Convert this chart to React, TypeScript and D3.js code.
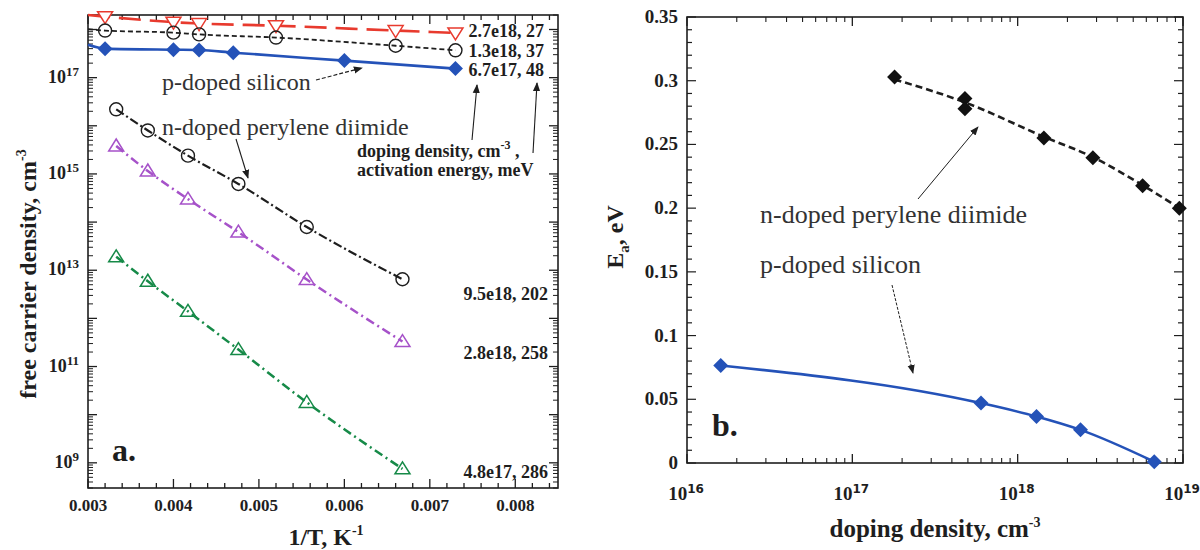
import React from "react";
import * as d3 from "d3";

// ---------- Panel a data (1/T in K^-1, carrier density in cm^-3) ----------
const tempX = [0.0032, 0.004, 0.0043, 0.0052, 0.0066, 0.0073];
const redY = [1.85e18, 1.42e18, 1.33e18, 1.2e18, 9.5e17, 8.5e17];
const redStart = 2.0e18;
const blkY = [9.5e17, 8.6e17, 7.9e17, 6.8e17, 4.6e17, 3.7e17];
const blkStart = 1.02e18;
const siX = [0.0032, 0.004, 0.0043, 0.0047, 0.006, 0.0073];
const siY = [4.0e17, 3.8e17, 3.75e17, 3.3e17, 2.26e17, 1.54e17];
const siStart = 4.8e17;

const pdiX = [0.00333, 0.0037, 0.00417, 0.00476, 0.00556, 0.00668];
const pdiBlackY = [2.2e16, 8.0e15, 2.4e15, 6.2e14, 7.9e13, 6.5e12];
const pdiPurpleY = [3.8e15, 1.15e15, 3.0e14, 6.2e13, 6.4e12, 3.3e11];
const pdiGreenY = [1.9e13, 5.9e12, 1.4e12, 2.25e11, 1.8e10, 7.5e8];

const labelsTop = ["2.7e18, 27", "1.3e18, 37", "6.7e17, 48"];
const labelsTopY = [9.3e17, 3.6e17, 1.44e17];
const labelsBot = ["9.5e18, 202", "2.8e18, 258", "4.8e17, 286"];
const labelsBotY = [3.2e12, 1.9e11, 6.4e8];

const xTicksA = [0.003, 0.004, 0.005, 0.006, 0.007, 0.008];
const yLabelExpA = [9, 11, 13, 15, 17];

// ---------- Panel b data (doping density cm^-3, Ea eV) ----------
const pdiDopX = [1.8e17, 4.8e17, 4.8e17, 1.44e18, 2.85e18, 5.7e18, 9.5e18];
const pdiEa = [0.303, 0.286, 0.278, 0.255, 0.2395, 0.2175, 0.2];
const pdiFitX = [1.8e17, 4.8e17, 1.44e18, 2.85e18, 5.7e18, 9.5e18];
const pdiFitEa = [0.301, 0.283, 0.256, 0.24, 0.218, 0.2];
const siDopX = [1.6e16, 6.0e17, 1.3e18, 2.4e18, 6.7e18];
const siEa = [0.0765, 0.047, 0.0365, 0.026, 0.001];
const yTicksB = [0, 0.05, 0.1, 0.15, 0.2, 0.25, 0.3, 0.35];
const xExpB = [16, 17, 18, 19];

const FONT = "'Liberation Serif', 'Times New Roman', serif";
const INK = "#1e1e1e";

const xA = d3.scaleLinear().domain([0.003, 0.0085]).range([88, 558]);
const yA = d3.scaleLog().domain([3e8, 2e18]).range([488, 15]);
const xB = d3.scaleLog().domain([1e16, 1e19]).range([687, 1183]);
const yB = d3.scaleLinear().domain([0, 0.35]).range([463, 17]);

const upTri = "M0,-7L7.5,5L-7.5,5Z";
const downTri = "M-7.5,-5L7.5,-5L0,7Z";
const diamond = "M0,-7.5L7.5,0L0,7.5L-7.5,0Z";

function logTicks(lo: number, hi: number) {
  const major: number[] = [];
  const minor: number[] = [];
  for (let e = Math.floor(Math.log10(lo)); e <= Math.ceil(Math.log10(hi)); e++) {
    for (let k = 1; k <= 9; k++) {
      const v = k * Math.pow(10, e);
      if (v < lo * 0.999 || v > hi * 1.001) continue;
      (k === 1 ? major : minor).push(v);
    }
  }
  return { major, minor };
}

function lineA(xs: number[], ys: number[]) {
  return d3
    .line<number>()
    .x((_, i) => xA(xs[i]))
    .y((_, i) => yA(ys[i]))
    .curve(d3.curveMonotoneX)(xs.map((_, i) => i)) as string;
}
function lineB(xs: number[], ys: number[]) {
  return d3
    .line<number>()
    .x((_, i) => xB(xs[i]))
    .y((_, i) => yB(ys[i]))
    .curve(d3.curveMonotoneX)(xs.map((_, i) => i)) as string;
}

export default function App() {
  const ltA = logTicks(3e8, 2e18);
  const ltB = logTicks(1e16, 1e19);
  const xMinorA = d3.range(0, 28).map((i) => 0.003 + i * 0.0002).filter((v) => v <= 0.00851);
  const yMinorB = d3.range(0, 36).map((i) => i * 0.01);

  const [ax0, ax1] = xA.range();
  const [ay1, ay0] = yA.range();
  const [bx0, bx1] = xB.range();
  const [by1, by0] = yB.range();

  return (
    <svg width={1200} height={550} style={{ display: "block", position: "absolute", left: 0, top: 0, background: "#fff" }} fontFamily={FONT}>
      <defs>
        <marker id="ah" viewBox="0 0 10 10" refX="9" refY="5" markerWidth="9" markerHeight="9" orient="auto-start-reverse" markerUnits="userSpaceOnUse">
          <path d="M0,1L10,5L0,9Z" fill={INK} />
        </marker>
      </defs>
      <rect x={0} y={0} width={1200} height={550} fill="#fff" />

      {/* ================= PANEL A ================= */}
      <g>
        <rect x={ax0} y={ay0} width={ax1 - ax0} height={ay1 - ay0} fill="none" stroke={INK} strokeWidth={1.6} />
        {xMinorA.map((v, i) => {
          const isMaj = Math.abs((v * 1000) - Math.round(v * 1000)) < 1e-6;
          const len = isMaj ? 9 : 5;
          return (
            <g key={"xa" + i} stroke={INK} strokeWidth={1.3}>
              <line x1={xA(v)} x2={xA(v)} y1={ay1} y2={ay1 - len} />
              <line x1={xA(v)} x2={xA(v)} y1={ay0} y2={ay0 + len} />
            </g>
          );
        })}
        {xTicksA.map((v) => (
          <text key={"xal" + v} x={xA(v)} y={511} textAnchor="middle" fontSize={17} fontWeight="bold" fill={INK}>
            {v.toFixed(3)}
          </text>
        ))}
        {ltA.major.map((v, i) => (
          <g key={"yam" + i} stroke={INK} strokeWidth={1.3}>
            <line x1={ax0} x2={ax0 + 9} y1={yA(v)} y2={yA(v)} />
            <line x1={ax1} x2={ax1 - 9} y1={yA(v)} y2={yA(v)} />
          </g>
        ))}
        {ltA.minor.map((v, i) => (
          <g key={"yan" + i} stroke={INK} strokeWidth={1}>
            <line x1={ax0} x2={ax0 + 5} y1={yA(v)} y2={yA(v)} />
            <line x1={ax1} x2={ax1 - 5} y1={yA(v)} y2={yA(v)} />
          </g>
        ))}
        {yLabelExpA.map((e) => (
          <text key={"yal" + e} x={79} y={yA(Math.pow(10, e)) + 5} textAnchor="end" fontSize={18} fontWeight="bold" fill={INK}>
            10<tspan fontSize={13} dy={-7}>{e}</tspan>
          </text>
        ))}
        <text x={326} y={545} textAnchor="middle" fontSize={24} fontWeight="bold" fill={INK}>
          1/T, K<tspan fontSize={14} dy={-10}>-1</tspan>
        </text>
        <text transform="translate(36,274) rotate(-90)" textAnchor="middle" fontSize={24} fontWeight="bold" fill={INK}>
          free carrier density, cm<tspan fontSize={14} dy={-10}>-3</tspan>
        </text>

        <path d={lineA([0.003, ...tempX], [redStart, ...redY])} fill="none" stroke="#e83a2e" strokeWidth={2.6} strokeDasharray="22,9" />
        <path d={lineA([0.003, ...tempX], [blkStart, ...blkY])} fill="none" stroke={INK} strokeWidth={1.8} strokeDasharray="5,3" />
        <path d={lineA([0.003, ...siX], [siStart, ...siY])} fill="none" stroke="#2452b8" strokeWidth={2.6} />
        <path d={lineA(pdiX, pdiBlackY)} fill="none" stroke={INK} strokeWidth={2.2} strokeDasharray="9,3,2,3" />
        <path d={lineA(pdiX, pdiPurpleY)} fill="none" stroke="#a652c9" strokeWidth={2.5} strokeDasharray="9,4,2,4" />
        <path d={lineA(pdiX, pdiGreenY)} fill="none" stroke="#168a48" strokeWidth={2.5} strokeDasharray="9,4,2,4" />

        {tempX.map((x, i) => (
          <path key={"r" + i} d={downTri} transform={`translate(${xA(x)},${yA(redY[i])})`} fill="#fff" stroke="#e83a2e" strokeWidth={1.5} />
        ))}
        {tempX.map((x, i) => (
          <circle key={"k" + i} cx={xA(x)} cy={yA(blkY[i])} r={6.5} fill="none" stroke={INK} strokeWidth={1.4} />
        ))}
        {siX.map((x, i) => (
          <path key={"s" + i} d={diamond} transform={`translate(${xA(x)},${yA(siY[i])})`} fill="#2452b8" />
        ))}
        {pdiX.map((x, i) => (
          <circle key={"pb" + i} cx={xA(x)} cy={yA(pdiBlackY[i])} r={6.5} fill="none" stroke={INK} strokeWidth={1.4} />
        ))}
        {pdiX.map((x, i) => (
          <path key={"pp" + i} d={upTri} transform={`translate(${xA(x)},${yA(pdiPurpleY[i])})`} fill="none" stroke="#a652c9" strokeWidth={1.5} />
        ))}
        {pdiX.map((x, i) => (
          <path key={"pg" + i} d={upTri} transform={`translate(${xA(x)},${yA(pdiGreenY[i])})`} fill="none" stroke="#168a48" strokeWidth={1.5} />
        ))}

        {labelsTop.map((t, i) => (
          <text key={"lt" + i} x={544} y={yA(labelsTopY[i]) + 6} textAnchor="end" fontSize={18} fontWeight="bold" fill={INK}>
            {t}
          </text>
        ))}
        {labelsBot.map((t, i) => (
          <text key={"lb" + i} x={548} y={yA(labelsBotY[i]) + 6} textAnchor="end" fontSize={18} fontWeight="bold" fill={INK}>
            {t}
          </text>
        ))}

        <text x={162} y={90} fontSize={24} fill="#333">p-doped silicon</text>
        <line x1={316} y1={80} x2={362} y2={68} stroke={INK} strokeWidth={1.2} strokeDasharray="4,2" markerEnd="url(#ah)" />
        <text x={162} y={135} fontSize={24} fill="#333">n-doped perylene diimide</text>
        <line x1={236} y1={139} x2={248} y2={178} stroke={INK} strokeWidth={1.1} markerEnd="url(#ah)" />
        <text x={357} y={157} fontSize={18} fontWeight="bold" fill={INK}>
          doping density, cm<tspan fontSize={12} dy={-8}>-3</tspan>
          <tspan dy={8}> ,</tspan>
        </text>
        <text x={357} y={176} fontSize={18} fontWeight="bold" fill={INK}>activation energy, meV</text>
        <line x1={472} y1={140} x2={477} y2={85} stroke={INK} strokeWidth={1.1} markerEnd="url(#ah)" />
        <line x1={533} y1={153} x2={537} y2={83} stroke={INK} strokeWidth={1.1} markerEnd="url(#ah)" />
        <text x={112} y={461} fontSize={32} fontWeight="bold" fill={INK}>a.</text>
      </g>

      {/* ================= PANEL B ================= */}
      <g>
        <rect x={bx0} y={by0} width={bx1 - bx0} height={by1 - by0} fill="none" stroke={INK} strokeWidth={1.6} />
        {yMinorB.map((v, i) => {
          const isMaj = i % 5 === 0;
          const len = isMaj ? 9 : 5;
          return (
            <g key={"yb" + i} stroke={INK} strokeWidth={1.2}>
              <line x1={bx0} x2={bx0 + len} y1={yB(v)} y2={yB(v)} />
              <line x1={bx1} x2={bx1 - len} y1={yB(v)} y2={yB(v)} />
            </g>
          );
        })}
        {yTicksB.map((v) => (
          <text key={"ybl" + v} x={678} y={yB(v) + 6} textAnchor="end" fontSize={19} fontWeight="bold" fill={INK}>
            {v === 0 ? "0" : String(+v.toFixed(2))}
          </text>
        ))}
        {ltB.major.map((v, i) => (
          <g key={"xbm" + i} stroke={INK} strokeWidth={1.3}>
            <line x1={xB(v)} x2={xB(v)} y1={by1} y2={by1 - 9} />
            <line x1={xB(v)} x2={xB(v)} y1={by0} y2={by0 + 9} />
          </g>
        ))}
        {ltB.minor.map((v, i) => (
          <g key={"xbn" + i} stroke={INK} strokeWidth={1.1}>
            <line x1={xB(v)} x2={xB(v)} y1={by1} y2={by1 - 5} />
            <line x1={xB(v)} x2={xB(v)} y1={by0} y2={by0 + 5} />
          </g>
        ))}
        {xExpB.map((e) => (
          <text key={"xbl" + e} x={xB(Math.pow(10, e)) - 1} y={500} textAnchor="middle" fontSize={19} fontWeight="bold" fill={INK}>
            10<tspan fontSize={12} dy={-7} fontFamily="'DejaVu Sans', sans-serif">{e}</tspan>
          </text>
        ))}
        <text x={935} y={537} textAnchor="middle" fontSize={25} fontWeight="bold" fill={INK}>
          doping density, cm<tspan fontSize={14} dy={-10}>-3</tspan>
        </text>
        <text transform="translate(623,237) rotate(-90)" textAnchor="middle" fontSize={24} fontWeight="bold" fill={INK}>
          E<tspan fontSize={15} dy={6}>a</tspan>
          <tspan dy={-6}>, eV</tspan>
        </text>

        <path d={lineB(pdiFitX, pdiFitEa)} fill="none" stroke={INK} strokeWidth={2.6} strokeDasharray="7,4" />
        <path d={lineB(siDopX, siEa)} fill="none" stroke="#2452b8" strokeWidth={2.6} />
        {pdiDopX.map((x, i) => (
          <path key={"bd" + i} d={diamond} transform={`translate(${xB(x)},${yB(pdiEa[i])})`} fill="#111" />
        ))}
        {siDopX.map((x, i) => (
          <path key={"bs" + i} d={diamond} transform={`translate(${xB(x)},${yB(siEa[i])})`} fill="#2452b8" />
        ))}

        <text x={760} y={223} fontSize={26} fill="#333">n-doped perylene diimide</text>
        <line x1={918} y1={199} x2={978} y2={127} stroke={INK} strokeWidth={1} markerEnd="url(#ah)" />
        <text x={760} y={273} fontSize={26} fill="#333">p-doped silicon</text>
        <line x1={892} y1={285} x2={913} y2={373} stroke={INK} strokeWidth={1} strokeDasharray="3,1.5" markerEnd="url(#ah)" />
        <text x={712} y={436} fontSize={32} fontWeight="bold" fill={INK}>b.</text>
      </g>
    </svg>
  );
}
